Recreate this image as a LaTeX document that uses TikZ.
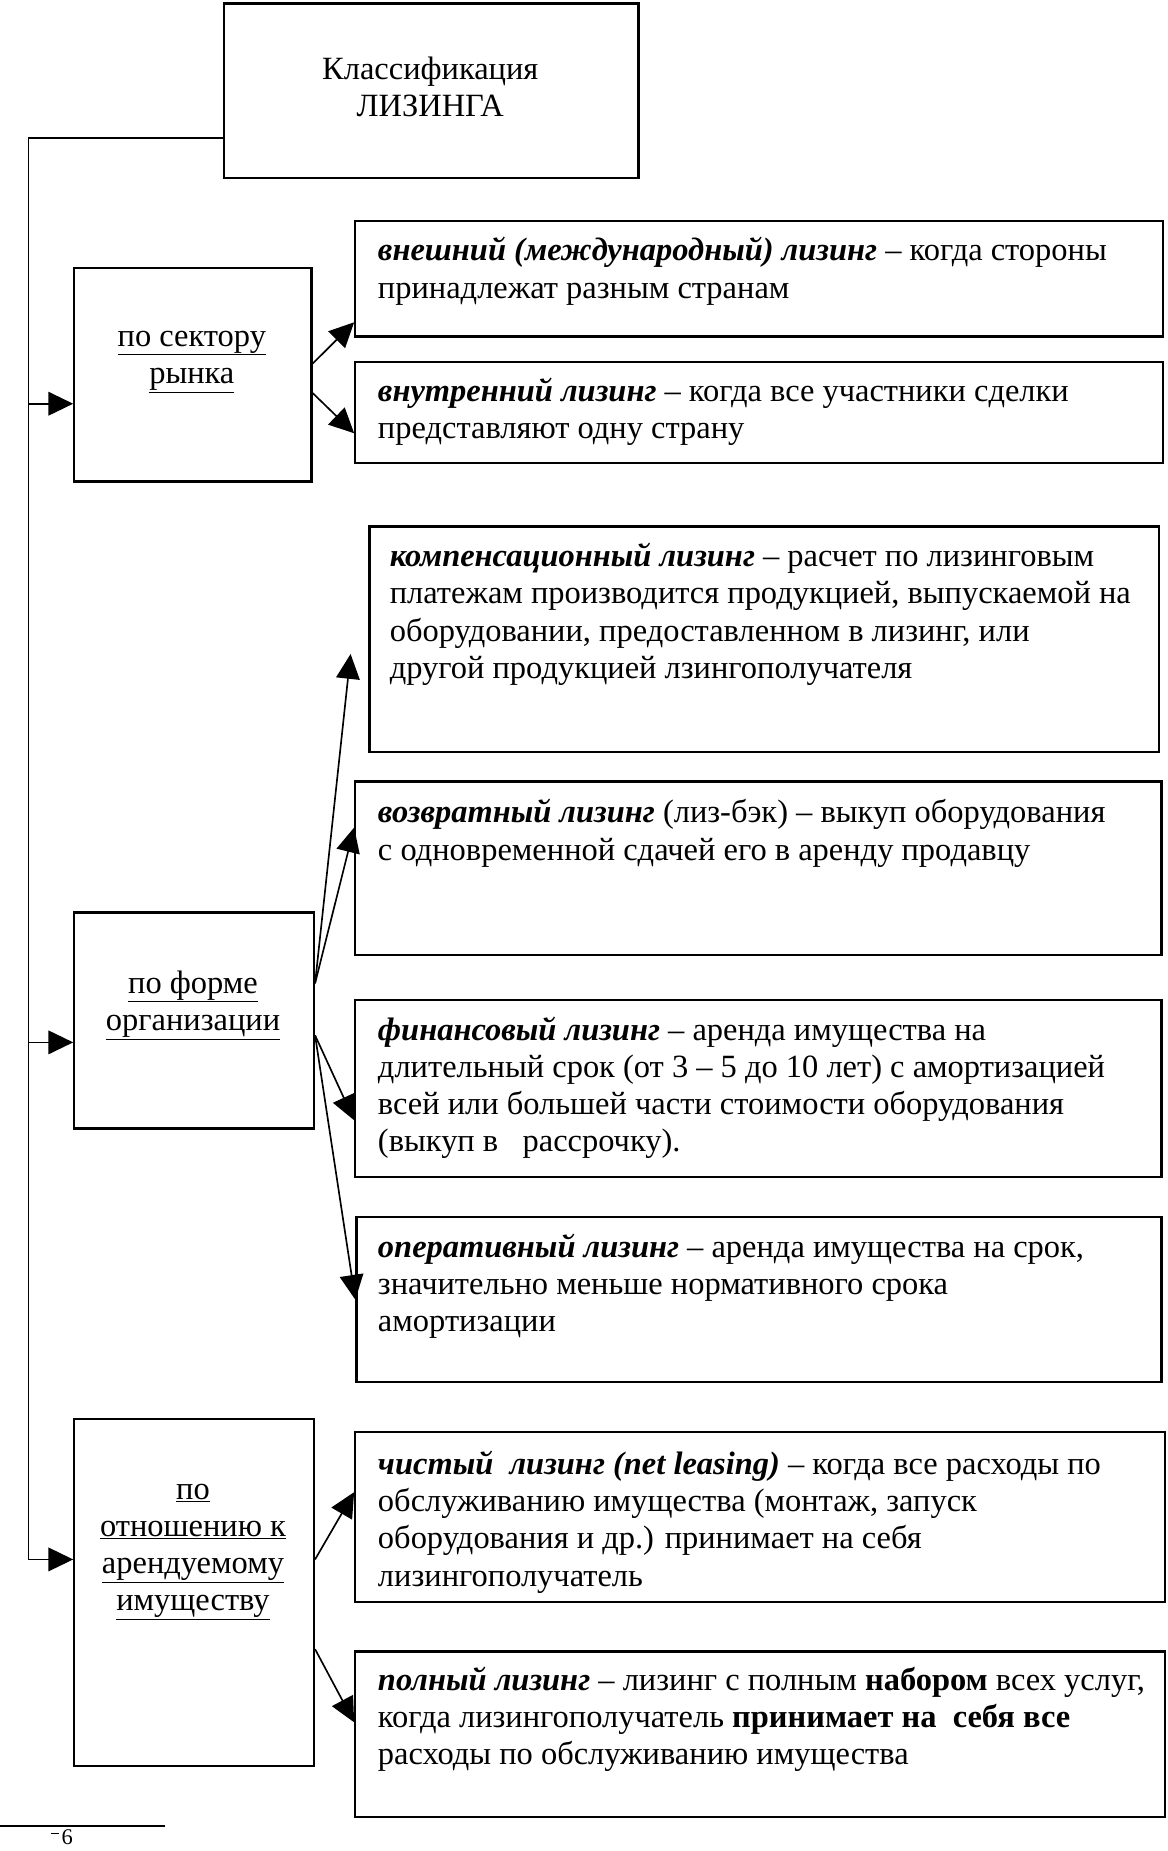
\documentclass[tikz,border=0pt]{standalone}
\usepackage{fontspec}
\setmainfont{Liberation Serif}
\usetikzlibrary{arrows.meta}
\newcommand{\bi}[1]{\textbf{\textit{#1}}}
\begin{document}
\begin{tikzpicture}[x=1pt,y=-1pt,
  box/.style={draw, line width=1.9pt, rectangle, inner sep=0pt, anchor=north west},
  desc/.style={anchor=north west, inner sep=0pt, align=left, font=\fontsize{27.5}{31.5}\selectfont},
  cat/.style={anchor=north, inner sep=0pt, align=center, font=\fontsize{27.5}{31.5}\selectfont},
  arr/.style={line width=1.4pt, -{Triangle[length=21pt,width=20pt]}},
]
\useasboundingbox (0,0) rectangle (989,1568);

% top box
\node[box, minimum width=351pt, minimum height=148pt] (top) at (189,2) {};
\node[cat] (topt) at (364.5,48) {Классификация\\ЛИЗИНГА};

% category boxes
\node[box, minimum width=201pt, minimum height=181pt] (s1) at (62,226) {};
\node[cat] (s1t) at (162.5,280) {\underline{по сектору}\\\underline{рынка}};
\node[box, minimum width=203pt, minimum height=183pt] (s2) at (62,772) {};
\node[cat] (s2t) at (163.5,822) {\underline{по форме}\\\underline{организации}};
\node[box, minimum width=203pt, minimum height=294pt] (s3) at (62,1201) {};
\node[cat] (s3t) at (163.5,1257) {\underline{по}\\\underline{отношению к}\\\underline{арендуемому}\\\underline{имуществу}};

% description boxes
\node[box, minimum width=684pt, minimum height=98pt] (b1) at (300,186) {};
\node[desc] (b1t) at (320,201) {\bi{внешний (международный) лизинг} – когда стороны\\принадлежат разным странам};
\node[box, minimum width=684pt, minimum height=85pt] (b2) at (300,306) {};
\node[desc] (b2t) at (320,320) {\bi{внутренний лизинг} – когда все участники сделки\\представляют одну страну};

\node[box, minimum width=669pt, minimum height=191pt] (c1) at (312,445) {};
\node[desc] (c1t) at (330,460) {\bi{компенсационный лизинг} – расчет по лизинговым\\платежам производится продукцией, выпускаемой на\\оборудовании, предоставленном в лизинг, или\\другой продукцией лзингополучателя};
\node[box, minimum width=683pt, minimum height=147pt] (c2) at (300,661) {};
\node[desc] (c2t) at (320,677) {\bi{возвратный лизинг} (лиз-бэк) – выкуп оборудования\\с одновременной сдачей его в аренду продавцу};
\node[box, minimum width=683pt, minimum height=150pt] (c3) at (300,846) {};
\node[desc] (c3t) at (320,861) {\bi{финансовый лизинг} – аренда имущества на\\длительный срок (от 3 – 5 до 10 лет) с амортизацией\\всей или большей части стоимости оборудования\\(выкуп в\ \ \ рассрочку).};
\node[box, minimum width=682pt, minimum height=140pt] (c4) at (301,1030) {};
\node[desc] (c4t) at (320,1045) {\bi{оперативный лизинг} – аренда имущества на срок,\\значительно меньше нормативного срока\\амортизации};

\node[box, minimum width=686pt, minimum height=144pt] (d1) at (300,1212) {};
\node[desc] (d1t) at (320,1229) {\bi{чистый\ \ лизинг (net leasing)} – когда все расходы по\\обслуживанию имущества (монтаж, запуск\\оборудования и др.) принимает на себя\\лизингополучатель};
\node[box, minimum width=686pt, minimum height=140pt] (d2) at (300,1398) {};
\node[desc] (d2t) at (320,1412) {\bi{полный лизинг} – лизинг с полным \textbf{набором} всех услуг,\\когда лизингополучатель \textbf{принимает на\ \ себя все}\\расходы по обслуживанию имущества};

% trunk
\coordinate (tk) at (24,117);
\coordinate (j1) at (24,342);
\coordinate (j2) at (24,883);
\coordinate (j3) at (24,1321);
\draw[arr] (top.west |- tk) -- (tk) -- (j3) -- (s3.west |- j3);
\draw[arr] (j1) -- (s1.west |- j1);
\draw[arr] (j2) -- (s2.west |- j2);

% branch arrows
\draw[arr] (s1.east |- 0,308) -- (b1.west |- 0,273);
\draw[arr] (s1.east |- 0,333) -- (b2.west |- 0,367);

\coordinate (t1) at (297,554);
\draw[arr] (s2.east |- 0,833) -- (t1);
\draw[arr] (s2.east |- 0,833) -- (c2.west |- 0,701);
\draw[arr] (s2.east |- 0,877) -- (c3.west |- 0,949);
\draw[arr] (s2.east |- 0,877) -- (c4.west |- 0,1101);

\draw[arr] (s3.east |- 0,1321) -- (d1.west |- 0,1264);
\draw[arr] (s3.east |- 0,1397) -- (d2.west |- 0,1459);

% footnote rule
\coordinate (fa) at (0,1547);
\coordinate (fb) at (140,1547);
\draw[line width=1.6pt] (fa) -- (fb);
\coordinate (fc) at (43,1553);
\coordinate (fd) at (50,1553);
\draw[line width=1pt] (fc) -- (fd);
\node[anchor=north west, inner sep=0pt, font=\fontsize{19}{21}\selectfont] (fn) at (52,1550) {6};
\end{tikzpicture}
\end{document}
